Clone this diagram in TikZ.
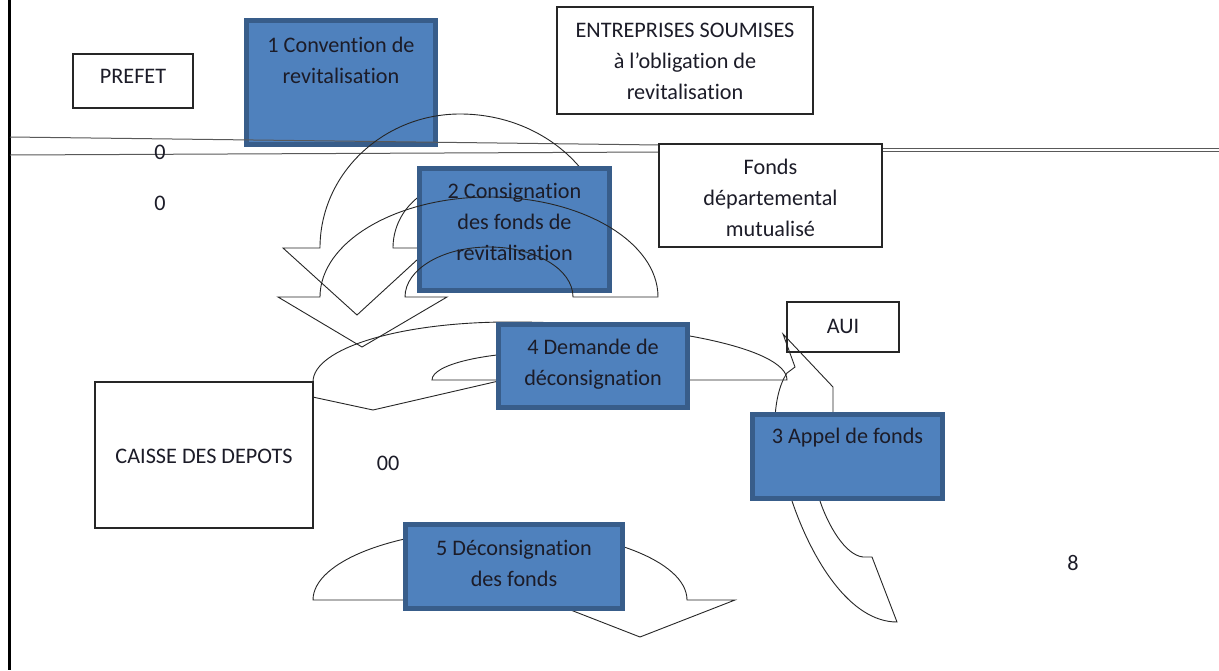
\documentclass[tikz,border=0pt]{standalone}
\usepackage{fontspec}
\setmainfont{Carlito}[Ligatures={NoCommon}]
\definecolor{bfill}{HTML}{4F81BD}
\definecolor{bedge}{HTML}{385D8A}
\definecolor{txtc}{HTML}{1C1C28}
\begin{document}
\begin{tikzpicture}[x=1pt,y=-1pt,
  wbox/.style={draw=black!85,line width=1.1pt,fill=white,inner sep=0pt},
  bbox/.style={draw=bedge,fill=bfill,line width=5pt,inner sep=0pt},
  lbl/.style={align=center,inner sep=0pt,text=txtc,font=\fontsize{22.2}{31}\selectfont},
  arrowshape/.style={draw=black!85,line width=0.9pt,line join=miter},
  rule/.style={draw=black!65,line width=1pt}]
\useasboundingbox (0,0) rectangle (1219,670);
\fill[white] (0,0) rectangle (1219,670);
% left border
\coordinate (bt) at (9,0);
\coordinate (bb) at (9,670);
\draw[line width=3pt] (bt) -- (bb);
% white boxes top
\node[wbox,minimum width=120pt,minimum height=54pt] (prefet) at (133,81) {};
\node[wbox,minimum width=256pt,minimum height=107pt] (ent) at (685,60.5) {};
% box 1
\node[bbox,minimum width=189pt,minimum height=124pt] (b1) at (341,82.5) {};
% horizontal rules
\coordinate (r1a) at (10,137);
\coordinate (r1b) at (660,145);
\coordinate (r2a) at (10,155);
\coordinate (r2b) at (660,152);
\coordinate (r3a) at (882,148);
\coordinate (r3b) at (1219,148);
\coordinate (r4a) at (882,151);
\coordinate (r4b) at (1219,151);
\draw[rule] (r1a) -- (r1b);
\draw[rule] (r2a) -- (r2b);
\draw[rule] (r3a) -- (r3b);
\draw[rule] (r4a) -- (r4b);
% arrow A
\draw[arrowshape] (320,248) .. controls (320,174) and (383,114) .. (460,114)
  .. controls (543,114) and (610,174) .. (610,248)
  -- (527,248) .. controls (527,212) and (497,183) .. (460,183)
  .. controls (423,183) and (393,212) .. (393,248)
  -- (430,248) -- (357,315) -- (283,248) -- cycle;
% box 2
\node[bbox,minimum width=190pt,minimum height=122pt] (b2) at (514.5,229.5) {};
% arrow B
\draw[arrowshape] (320,297) .. controls (320,242) and (396,197) .. (489,197)
  .. controls (582,197) and (658,242) .. (658,297)
  -- (573,297) .. controls (573,269) and (535,247) .. (489,247)
  .. controls (443,247) and (405,269) .. (405,297)
  -- (447,297) -- (362,347) -- (278,297) -- cycle;
% fonds box
\node[wbox,minimum width=223pt,minimum height=103pt] (fonds) at (770.5,195.5) {};
% arrow C
\draw[arrowshape] (313,382) .. controls (313,348) and (401,322) .. (509,322)
  .. controls (662,322) and (787,348) .. (787,380)
  -- (668,380) .. controls (668,364.5) and (615,352) .. (550,352)
  .. controls (485,352) and (432,364.5) .. (432,380)
  -- (503,380) -- (373,410) -- (243,382) -- cycle;
\node[bbox,minimum width=189pt,minimum height=83pt] (b4) at (593,366) {};
\node[wbox,minimum width=218pt,minimum height=146pt] (caisse) at (204,455) {};
\node[wbox,minimum width=112pt,minimum height=50pt] (aui) at (843,327) {};
% arrow D
\draw[arrowshape] (833,430) -- (833,387) -- (783,334) -- (795,367) -- (787,373)
  .. controls (772,395) and (768,450) .. (792,501)
  .. controls (812,560) and (850,622) .. (897,622)
  -- (872,557) -- (863,557)
  .. controls (845,555) and (828,525) .. (820,501) -- cycle;
\node[bbox,minimum width=190pt,minimum height=84pt] (b3) at (847.5,456.5) {};
% arrow E
\draw[arrowshape] (313,600) .. controls (313,561) and (397,529) .. (500,529)
  .. controls (603,529) and (687,561) .. (687,600)
  -- (735,600) -- (640,637) -- (545,600) -- (593,600)
  .. controls (593,581) and (551,565) .. (500,565)
  .. controls (449,565) and (407,581) .. (407,600) -- cycle;
\node[bbox,minimum width=217pt,minimum height=84pt] (b5) at (514,566.5) {};
% texts
\node[lbl] (prefet-t) at (133,76) {PREFET};
\node[lbl] (ent-t) at (685,61) {ENTREPRISES SOUMISES\\à l’obligation de\\revitalisation};
\node[lbl] (b1-t) at (341,60) {1 Convention de\\revitalisation};
\node[lbl] (fonds-t) at (770.5,197.5) {Fonds\\départemental\\mutualisé};
\node[lbl] (b2-t) at (514.5,222) {2 Consignation\\des fonds de\\revitalisation};
\node[lbl] (b4-t) at (593,364) {4 Demande de\\déconsignation};
\node[lbl] (aui-t) at (843,326) {AUI};
\node[lbl] (b3-t) at (847.5,438) {3 Appel de fonds};
\node[lbl] (caisse-t) at (204,456) {CAISSE DES DEPOTS};
\node[lbl] (b5-t) at (514,563.5) {5 Déconsignation\\des fonds};
\node[lbl] (z1) at (160,152) {0};
\node[lbl] (z2) at (160,203) {0};
\node[lbl] (z3) at (388,463) {00};
\node[lbl] (z4) at (1073,563) {8};
\end{tikzpicture}
\end{document}
